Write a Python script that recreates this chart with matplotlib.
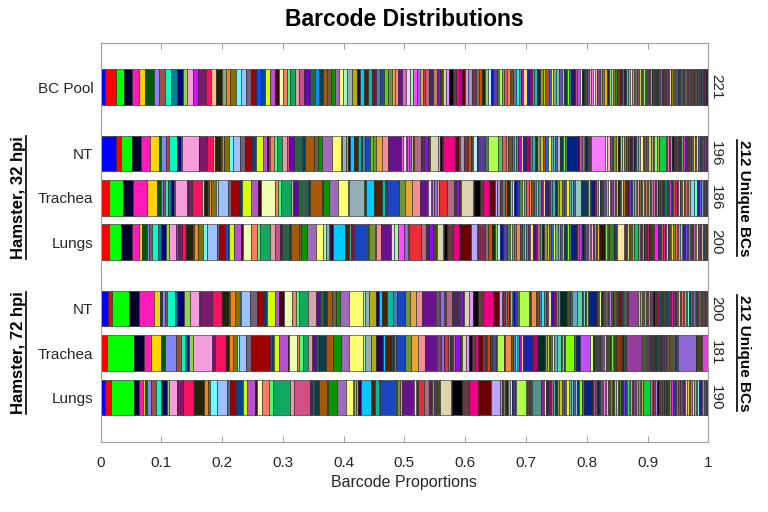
import numpy as np
import matplotlib
matplotlib.use("Agg")
import matplotlib.pyplot as plt
from matplotlib.lines import Line2D

plt.rcParams['font.family'] = ['Liberation Sans', 'DejaVu Sans']

# relative barcode abundances (barcode order, left to right);
# each row is normalised to proportions before drawing
bc_pool = [4.7, 11.3, 8, 7.3, 7.3, 6, 8.7, 5.3, 6.7, 5.3,
           6.7, 6, 4, 5.3, 5.3, 8, 5.3, 4.7, 6, 4.7,
           4, 6, 4.7, 5.3, 4.7, 4.7, 5.3, 4, 5.3, 4.7,
           4, 4.7, 3.3, 3.3, 4.7, 4.7, 4.7, 6, 4.7, 4,
           4, 4, 4.7, 4, 4, 4, 4, 4.7, 4.7, 4,
           4, 4, 4, 3.3, 4, 4, 4, 4, 3.3, 3.3,
           4, 4, 4, 3.3, 3.3, 3.3, 2.7, 2.7, 4, 3.3,
           4, 3.3, 3.3, 2.7, 3.3, 4, 2.7, 3.3, 3.3, 2.7,
           3.3, 4, 3.3, 3.3, 3.3, 2.7, 3.3, 2.7, 2.7, 3.3,
           2.7, 2.7, 2, 3.3, 2.7, 2.7, 3.3, 2.7, 2, 2.7,
           3.3, 2.7, 2.7, 2, 3.3, 2.7, 2.7, 2.7, 3.3, 2,
           2.7, 2.7, 3.3, 2.7, 2, 2.7, 2, 2, 2.7, 2,
           2, 2.7, 2, 2, 2.7, 2, 2, 2.7, 2, 2,
           2.7, 2, 2, 2.7, 2, 2, 2.7, 2, 2, 2.7,
           2, 2, 2, 2.7, 2, 2, 2, 2.7, 2, 2,
           1.3, 1, 1.3, 1.3, 1, 1.3, 0.7, 1.3, 1.3, 1,
           1.3, 1, 1.3, 0.7, 1.3, 1.3, 1, 1.3, 1, 1.3,
           0.7, 1.3, 1, 1.3, 1, 1.3, 0.7, 1.3, 1, 1.3,
           1, 1, 1.3, 0.7, 1.3, 1, 1, 1.3, 0.7, 1,
           1.3, 1, 0.7, 1, 1.3, 1, 0.7, 1, 1, 0.7,
           1, 1, 0.7, 1, 0.7, 0.7, 1, 0.7, 0.7, 0.5,
           0.7, 0.5, 0.5, 0.5, 0.5, 0.5, 0.5, 0.5, 0.5, 0.5,
           0.5]

nt_32 = [15.3, 4.7, 11.3, 9.3, 8.7, 9.3, 2, 4.7, 2.7, 8,
         0.7, 3.3, 1.3, 16.7, 0.5, 8, 6, 1.3, 6, 1.3,
         2, 5.3, 3.3, 7.3, 5.3, 6, 1, 4, 6.7, 4,
         2, 1.3, 3.3, 3.3, 5.3, 4.7, 2, 4.7, 8, 1.3,
         2, 9.3, 3.3, 4.7, 9.3, 9.3, 1.3, 3.3, 2, 2,
         4, 4.7, 2.7, 0.7, 3.3, 5.3, 2.7, 2.7, 6, 6,
         13.3, 2, 2.7, 0.7, 2, 2, 2, 1.3, 6.7, 2.7,
         1, 3.3, 2.7, 8, 2, 1.3, 1.3, 12, 1, 3.3,
         1, 3.3, 3.3, 1, 3.3, 1, 1, 3.3, 1, 7.3,
         3.3, 10, 3.3, 4, 2.7, 3.3, 2, 2, 2.7, 2.7,
         2, 3.3, 3.3, 2.7, 2.7, 2, 2.7, 3.3, 2, 2.7,
         2.7, 2, 2.7, 2, 2.7, 2.7, 2.7, 2, 9.3, 2,
         2.7, 2, 1.3, 2, 2, 1.3, 1.3, 13.3, 2, 2.7,
         2, 1.3, 2.7, 2, 2, 2.7, 1.3, 2, 2.7, 2,
         2, 1.3, 2.7, 2, 2, 2.7, 1.3, 2, 2, 2.7,
         2, 1.3, 2.7, 2, 6.7, 1.3, 2, 1.3, 1.3, 2,
         1, 1.3, 2, 1, 1.3, 1, 2, 1.3, 1, 1.3,
         1, 1.3, 0.7, 1.3, 1, 1, 1.3, 0.7, 1, 1.3,
         0.7, 1, 1, 0.7, 1, 0.7, 0.5, 0.7, 0.5, 0.7,
         0.5, 0.5, 0.7, 0.5, 0.5, 0.5]

trachea_32 = [0, 8.7, 14, 9.3, 14.7, 9.3, 4.7, 1.3, 2, 3.3,
              2.7, 3.3, 1.3, 11.3, 1, 4, 10, 2, 4.7, 1,
              2, 4.7, 2, 10, 2.7, 9.3, 0.7, 1, 8.7, 7.3,
              3.3, 13.3, 3.3, 2.7, 10, 2.7, 1, 3.3, 10.7, 0.5,
              1, 12, 1.3, 6, 8.7, 10, 1.3, 14.7, 1.3, 1,
              8, 8, 2.7, 1.3, 1, 11.3, 0.5, 5.3, 7, 8.7,
              6.7, 1, 2.7, 1, 2, 2.7, 2.7, 7.3, 7.3, 1,
              1, 2.7, 2.7, 11.3, 1.3, 6, 3.3, 6, 1, 4.7,
              2, 2.7, 2, 3.3, 2, 2.7, 2, 2, 3.3, 2,
              2.7, 2, 2, 3.3, 2, 2.7, 2, 2, 3.3, 2,
              2, 2.7, 2, 2, 3.3, 2, 2, 2.7, 2, 2,
              3.3, 2, 2, 1.3, 6.7, 6.7, 2, 1.3, 2, 1.7,
              1.3, 2, 1.7, 1.3, 2, 1.3, 1.7, 2, 1.3, 1.7,
              1.3, 2, 1.7, 1.3, 2, 1.3, 1.7, 2, 1.3, 1.3,
              2, 1.7, 1.3, 2, 1.3, 1.7, 1.3, 2, 1.3, 1.7,
              1.3, 2, 1.3, 1.7, 1.3, 2, 1.3, 1.3, 1.7, 1.3,
              1.3, 1.7, 1.3, 1.3, 2, 1.3, 1.3, 1.7, 1.3, 1.3,
              2, 1.3, 1.3, 1.7, 1.3, 1.3, 1.7, 1.3, 1.3, 1.7,
              1.3, 4, 3, 2.7, 2, 1.3, 0.7, 0.6, 0.6, 0.5,
              0.6, 0.5, 0.6, 0.5, 0.5, 0.5]

lungs_32 = [0, 8, 12.7, 10.7, 7.3, 2.7, 4.7, 2, 2.7, 6.7,
            2.7, 4.7, 3.3, 7.3, 1.3, 4, 3.3, 1, 7.3, 1,
            4, 4, 4.7, 10, 2, 5.3, 3.3, 1.3, 4.7, 6.7,
            2.7, 8, 5.3, 2.7, 10, 5.3, 4.7, 2, 7.3, 1,
            1.3, 7.3, 2, 6.7, 8.7, 6.7, 3.3, 2.7, 1, 3.3,
            11.3, 4.7, 2, 1.3, 1.3, 14, 0.5, 6, 1, 5.3,
            10, 0.5, 2.7, 4, 5.3, 4.7, 0.5, 12, 4.7, 3.3,
            0.5, 3.3, 4, 6.7, 0.5, 2.7, 6, 6.7, 0.5, 10.7,
            6.7, 0.5, 6.7, 3.3, 4, 2.7, 2, 3.3, 2.7, 4,
            2.7, 2, 2.7, 2, 3.3, 2, 2, 2.7, 2, 2,
            2.7, 2, 2, 2.7, 2, 2, 2.7, 2, 2.7, 2,
            2, 2.7, 2, 2, 2, 2.7, 2, 2, 5.3, 1.3,
            2, 1.3, 1.7, 1.3, 1.3, 2, 1.3, 1.7, 1.3, 1.3,
            1.7, 1.3, 1.3, 1.5, 6, 2, 1, 1, 5.3, 0.5,
            0.5, 0.7, 0.5, 0.5, 0.5, 6.7, 1.3, 1.3, 1, 1.3,
            1.3, 1.3, 1, 1.3, 4.7, 1.3, 1.3, 1.3, 1.3, 1.3,
            1, 1.3, 1.3, 1.3, 1.3, 1.3, 1.3, 4, 2, 1.3,
            2, 1.7, 1.3, 2, 1.7, 1.3, 2, 1.7, 2, 1.3,
            1.7, 2, 1.3, 1.7, 2, 1.3, 1.7, 1.3, 2, 1.7,
            1.3, 2, 1.3, 1.7, 1.3, 1.3, 1.3, 1, 1, 1]

nt_72 = [7.3, 4, 16.7, 10.7, 14.7, 6, 2, 2.7, 2, 8,
         2, 7.3, 6, 9.3, 0.7, 12, 9.3, 0.7, 7.3, 1,
         4.7, 4.7, 1.3, 9.3, 6.7, 6.7, 0.7, 2, 8, 4,
         5.3, 8, 4, 2.7, 9.3, 8, 0.7, 3.3, 3.3, 0.7,
         3, 4.7, 4.7, 4, 9, 13.3, 2, 4.7, 6.7, 3.3,
         2.7, 5.3, 5.3, 0.5, 3.3, 8, 0.5, 5.3, 5.3, 6,
         14, 1.3, 1.3, 1, 1, 4, 1, 1, 6, 6.7,
         0.5, 3.3, 1, 4.7, 4.7, 4.7, 4.7, 10.7, 0.7, 5.3,
         2.7, 1.3, 2, 1.3, 2, 1.3, 2, 1.3, 2, 1.3,
         2, 10, 1, 1.3, 5.3, 2.7, 2, 2.7, 2, 2.7,
         2.7, 2, 2.7, 2, 2.7, 6.7, 1, 0.7, 1, 0.7,
         1, 5.3, 4.7, 1.3, 2, 1.3, 2, 1.3, 6.7, 1.3,
         1, 1, 1.3, 1, 1, 1.3, 1, 1, 1.3, 1,
         1, 1.3, 1, 1, 1.3, 1, 1, 1.3, 1, 1,
         1.3, 1, 1, 1.3, 1, 1, 1.3, 1, 10, 1.3,
         2, 1.3, 1.3, 1.7, 1.3, 1.3, 2, 1.3, 1.3, 1.7,
         1.3, 1.3, 2, 1.3, 1.3, 1.7, 1.3, 1.3, 2, 1.3,
         1.3, 1.7, 1.3, 1.3, 2, 1.3, 1.3, 1.7, 1.3, 1.3,
         2, 1.3, 1.3, 1.7, 1.3, 1.3, 2, 1.3, 1.3, 1.3,
         1, 1, 1.3, 1, 1, 1, 1, 0.7, 0.7, 0.7]

trachea_72 = [0, 6, 27.3, 10, 6.7, 10.7, 3.3, 11.3, 5.3, 4,
              2, 2, 4, 18.7, 0.5, 2.7, 9.3, 1, 3, 0.7,
              3.3, 4.7, 2, 6.7, 5.3, 18, 2.7, 1.3, 5.3, 9.3,
              1.3, 7.3, 2, 4, 5.3, 4, 0.7, 2.7, 3.3, 0.5,
              6.7, 6.7, 0.5, 8, 7.3, 14, 2, 6.7, 4.7, 6.7,
              2, 7.3, 1.3, 0.5, 2, 8.7, 0.5, 6, 6.7, 6.7,
              12, 1.3, 1.3, 0.5, 1.3, 2.7, 0.5, 3.3, 2.7, 2.7,
              2, 5.3, 1.3, 4.7, 2.7, 2.7, 3.3, 2.7, 1, 4,
              1, 1.3, 1, 1, 3.3, 0.5, 0.5, 0.5, 0.5, 3.3,
              1.3, 6.7, 0.5, 0.5, 6, 2, 2, 2, 2, 2,
              1.7, 9.3, 4.7, 0.5, 0.5, 7.3, 1.7, 2, 1.7, 2,
              2, 2.7, 4, 1.3, 1.3, 1.3, 9.3, 2, 2.7, 0.7,
              0.7, 9.3, 3.3, 1.3, 5.3, 1.3, 1, 1.3, 1, 1.3,
              1, 1.3, 1, 1.3, 1, 1.3, 1, 1.3, 1.2, 6,
              0.5, 0.5, 0.5, 0.5, 0.5, 0.5, 0.5, 0.5, 14.7, 1.3,
              1, 0.7, 1, 1.3, 1, 0.7, 1, 1.3, 1, 0.7,
              1, 1.3, 1, 0.7, 1, 1.3, 1, 0.7, 1, 1.3,
              1, 0.7, 1, 1.3, 1, 0.7, 1, 1.3, 1, 0.7,
              1, 1.3, 1, 0.7, 1, 1.3, 17.3, 0.7, 5.3, 6.7]

lungs_72 = [4.7, 5.3, 23.3, 5.3, 3.3, 2, 2, 4.7, 4.7, 4.7,
            1, 4.7, 2.7, 7.3, 0.7, 5.3, 10.7, 0.7, 9.3, 0.7,
            3.3, 2.7, 6.7, 10, 2.7, 4.7, 1.3, 6.7, 4, 8.7,
            2, 4.7, 6.7, 4, 17.3, 3.3, 16, 2, 2.7, 0.7,
            4, 8, 0.5, 9.3, 8.7, 7.3, 1.3, 1.3, 2.7, 2.7,
            10, 4, 3.3, 0.5, 0.5, 16.7, 0.5, 2.7, 0.5, 2,
            10.7, 1.3, 2, 0.5, 0.5, 0.7, 0.5, 6, 4.7, 2.7,
            2, 2, 4, 11.3, 1, 10, 6.7, 9.3, 0.5, 12,
            8.7, 2, 1.3, 2, 1.3, 2, 1.3, 2, 1.3, 2,
            1.3, 9.3, 1, 1, 1, 1, 1, 1, 9.3, 2.7,
            2, 2, 2.7, 2, 2, 2.7, 2, 2.7, 2, 2,
            2.7, 2, 2, 2.7, 2, 2, 2.7, 2, 7.3, 1.3,
            1.7, 1.3, 1.3, 1.7, 1.3, 1.3, 1.7, 1.3, 1.3, 1.7,
            1.3, 1.3, 1.7, 1.3, 1.3, 1.7, 1.3, 1.3, 1.7, 1.3,
            1.3, 1.7, 1.3, 1.3, 1.7, 1.3, 1.3, 1.7, 1.3, 1.3,
            1.7, 1.7, 1.7, 1.7, 6.7, 2, 1.7, 1.3, 2, 2,
            1.7, 1.3, 2, 2, 1.7, 1.3, 2, 2, 1.7, 1.3,
            2, 2, 1.7, 1.3, 2, 2, 1.7, 1.3, 2, 2,
            1.7, 1.3, 2, 1.7, 1.7, 1.3, 1.3, 1.3, 1, 1]

rows = [bc_pool, nt_32, trachea_32, lungs_32, nt_72, trachea_72, lungs_72]
row_labels = ['BC Pool', 'NT', 'Trachea', 'Lungs', 'NT', 'Trachea', 'Lungs']
row_pos = [0, 1.5, 2.5, 3.5, 5, 6, 7]
bc_counts = ['221', '196', '186', '200', '200', '181', '190']
groups = ['Hamster, 32 hpi', 'Hamster, 72 hpi']
group_pos = [2.5, 6]
unique_label = '212 Unique BCs'
x_ticks = np.arange(0, 1.01, 0.1)


def srgb2lab(rgb):
    lin = np.where(rgb <= 0.04045, rgb / 12.92, ((rgb + 0.055) / 1.055) ** 2.4)
    m = np.array([[0.4360747, 0.3850649, 0.1430804],
                  [0.2225045, 0.7168786, 0.0606169],
                  [0.0139322, 0.0971045, 0.7141733]])
    xyz = lin @ m.T
    xyz = xyz / m.sum(axis=1)
    d = 6 / 29
    f = np.where(xyz > d ** 3, np.cbrt(xyz), xyz / (3 * d * d) + 4 / 29)
    L = 116 * f[:, 1] - 16
    a = 500 * (f[:, 0] - f[:, 1])
    b = 200 * (f[:, 1] - f[:, 2])
    return np.column_stack([L, a, b])


def distinguishable_colors(n):
    # same greedy pick as the MATLAB distinguishable_colors (white background)
    g = np.linspace(0, 1, 30)
    R, G, B = np.meshgrid(g, g, g, indexing='ij')
    rgb = np.column_stack([R.ravel('F'), G.ravel('F'), B.ravel('F')])
    lab = srgb2lab(rgb)
    last = srgb2lab(np.array([[1.0, 1.0, 1.0]]))[0]
    mind = np.full(len(rgb), np.inf)
    out = []
    for _ in range(n):
        mind = np.minimum(mind, ((lab - last) ** 2).sum(axis=1))
        k = np.argmax(mind)
        out.append(rgb[k])
        last = lab[k]
    return np.array(out)


cols = distinguishable_colors(max(len(r) for r in rows))

fig = plt.figure(figsize=(7.68, 5.12), dpi=100)
ax = fig.add_axes([0.1309, 0.1373, 0.7914, 0.7793])

for vals, y in zip(rows, row_pos):
    w = np.array(vals, dtype=float)
    w = w / w.sum()
    left = np.cumsum(w) - w
    keep = w > 0
    ax.barh(np.full(keep.sum(), y), w[keep], left=left[keep], height=0.8,
            color=cols[:len(w)][keep], edgecolor='#202020', linewidth=0.4)

ax.set_xlim(0, 1)
ax.set_ylim(8, -1)
ax.set_xticks(x_ticks)
ax.set_xticklabels(['0'] + ['%.1f' % v for v in x_ticks[1:-1]] + ['1'])
ax.set_yticks(row_pos)
ax.set_yticklabels(row_labels)
ax.tick_params(axis='x', direction='in', top=True, length=4, width=0.7,
               color='#a0a0a0', labelsize=11, labelcolor='#262626', pad=10)
ax.tick_params(axis='y', length=0, labelsize=11, labelcolor='#262626', pad=5)
for s in ax.spines.values():
    s.set_color('#a0a0a0')
    s.set_linewidth(0.8)

ax.set_xlabel('Barcode Proportions', fontsize=11.5, color='#262626', labelpad=4)
ax.set_title('Barcode Distributions', fontsize=16.5, fontweight='bold', pad=12)

tr = ax.get_yaxis_transform()
for c, y in zip(bc_counts, row_pos):
    ax.text(1.0128, y, c, transform=tr, rotation=-90, ha='center', va='center',
            fontsize=11, color='#262626')

texts = []
for g, y in zip(groups, group_pos):
    t1 = ax.text(-0.135, y, g, transform=tr, rotation=90, ha='center', va='center',
                 fontsize=12, fontweight='bold')
    t2 = ax.text(1.059, y, unique_label, transform=tr, rotation=-90, ha='center',
                 va='center', fontsize=11, fontweight='bold')
    texts += [(t1, 1), (t2, -1)]

# underline the rotated group labels
fig.canvas.draw()
inv = fig.transFigure.inverted()
for t, side in texts:
    bb = t.get_window_extent()
    xline = bb.x1 + 0.5 if side > 0 else bb.x0 - 0.5
    (x0, y0), (x1, y1) = inv.transform([(xline, bb.y0), (xline, bb.y1)])
    fig.add_artist(Line2D([x0, x1], [y0, y1], color='black', linewidth=1.2))

fig.savefig('out.png', dpi=100)
